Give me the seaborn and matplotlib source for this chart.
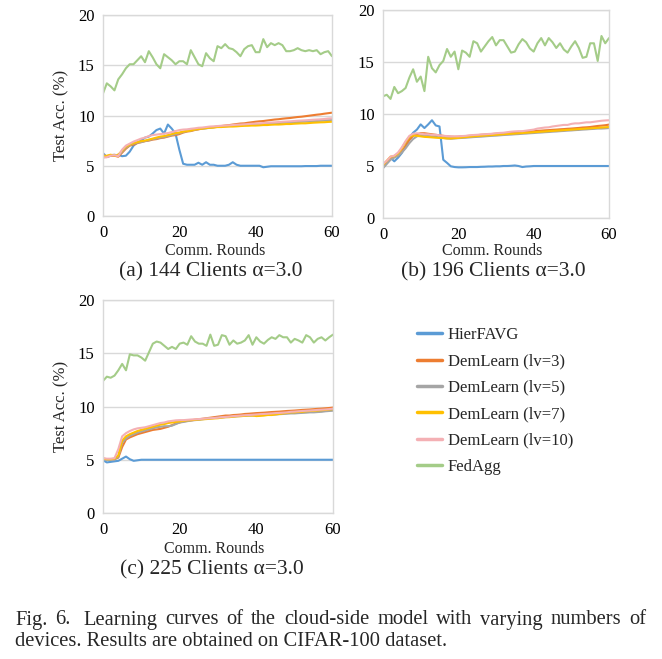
import matplotlib
matplotlib.use("Agg")
import matplotlib.pyplot as plt
import pandas as pd
import seaborn as sns

# ---------------- data ----------------
rounds = list(range(61))
methods = ["HierFAVG", "DemLearn (lv=3)", "DemLearn (lv=5)", "DemLearn (lv=7)",
           "DemLearn (lv=10)", "FedAgg"]
colors = ["#5B9BD5", "#ED7D31", "#A5A5A5", "#FFC000", "#F4B0B4", "#A4CC88"]
x_ticks = [0, 20, 40, 60]
y_ticks = [0, 5, 10, 15, 20]
panel_titles = ["(a) 144 Clients \u03b1=3.0", "(b) 196 Clients \u03b1=3.0", "(c) 225 Clients \u03b1=3.0"]
caption_line1 = "Fig. 6.  Learning curves of the cloud-side model with varying numbers of"
caption_line2 = "devices. Results are obtained on CIFAR-100 dataset."

# (a) 144 clients
a_hier = [6.26, 5.86, 6.0, 6.0, 6.1, 5.95, 6.0, 6.4, 7.0, 7.3,
          7.5, 7.8, 7.9, 8.2, 8.55, 8.7, 8.2, 9.1, 8.7, 8.2,
          6.6, 5.2, 5.1, 5.1, 5.1, 5.3, 5.1, 5.35, 5.1, 5.1,
          5.0, 5.0, 5.0, 5.1, 5.35, 5.1, 5.0, 5.0, 5.0, 5.0,
          5.0, 5.0, 4.85, 4.9, 4.95, 4.95, 4.95, 4.95, 4.95, 4.95,
          4.95, 4.95, 4.95, 4.97, 4.97, 4.97, 4.97, 5.0, 5.0, 5.0, 5.0]
a_dl3 = [6.1, 5.9, 6.0, 6.0, 5.9, 6.3, 6.7, 7.0, 7.1, 7.25,
         7.35, 7.45, 7.5, 7.6, 7.65, 7.75, 7.8, 7.9, 8.0, 8.05,
         8.15, 8.3, 8.4, 8.45, 8.55, 8.62, 8.7, 8.75, 8.8, 8.85,
         8.9, 8.95, 9.0, 9.04, 9.1, 9.15, 9.2, 9.22, 9.28, 9.33,
         9.38, 9.42, 9.45, 9.5, 9.55, 9.6, 9.63, 9.68, 9.72, 9.75,
         9.8, 9.85, 9.88, 9.93, 9.98, 10.03, 10.08, 10.12, 10.18, 10.23, 10.28]
a_dl5 = [6.0, 5.95, 6.05, 6.1, 6.0, 6.4, 6.8, 7.05, 7.2, 7.3,
         7.35, 7.45, 7.55, 7.65, 7.7, 7.8, 7.85, 7.95, 8.05, 8.15,
         8.25, 8.35, 8.45, 8.5, 8.58, 8.65, 8.7, 8.72, 8.78, 8.82,
         8.88, 8.9, 8.92, 8.95, 8.97, 9.0, 9.02, 9.05, 9.07, 9.1,
         9.12, 9.14, 9.16, 9.18, 9.2, 9.22, 9.25, 9.27, 9.29, 9.31,
         9.33, 9.35, 9.37, 9.39, 9.41, 9.43, 9.45, 9.47, 9.5, 9.52, 9.55]
a_dl7 = [5.9, 6.0, 6.1, 6.0, 6.1, 6.5, 6.9, 7.1, 7.25, 7.35,
         7.45, 7.5, 7.6, 7.7, 7.8, 7.9, 7.95, 8.05, 8.15, 8.25,
         8.3, 8.4, 8.45, 8.5, 8.6, 8.65, 8.7, 8.75, 8.78, 8.8,
         8.85, 8.85, 8.88, 8.9, 8.9, 8.92, 8.95, 8.97, 8.98, 9.0,
         9.0, 9.02, 9.05, 9.05, 9.08, 9.1, 9.1, 9.12, 9.15, 9.15,
         9.18, 9.2, 9.22, 9.22, 9.25, 9.28, 9.3, 9.32, 9.33, 9.36, 9.38]
a_dl10 = [5.8, 5.85, 6.0, 6.05, 5.95, 6.6, 7.0, 7.2, 7.4, 7.55,
          7.7, 7.8, 7.95, 8.05, 8.1, 8.15, 8.2, 8.25, 8.35, 8.45,
          8.55, 8.6, 8.62, 8.68, 8.72, 8.78, 8.8, 8.85, 8.9, 8.92,
          8.95, 8.98, 9.0, 9.02, 9.05, 9.08, 9.1, 9.12, 9.15, 9.18,
          9.2, 9.22, 9.25, 9.28, 9.3, 9.32, 9.35, 9.38, 9.4, 9.42,
          9.45, 9.48, 9.5, 9.52, 9.55, 9.58, 9.6, 9.62, 9.65, 9.7, 9.72]
a_fed = [12.2, 13.2, 12.9, 12.5, 13.6, 14.1, 14.7, 15.1, 15.1, 15.5,
         15.9, 15.3, 16.4, 15.8, 15.1, 14.7, 16.1, 15.8, 15.5, 15.1,
         15.4, 15.4, 15.1, 16.5, 15.8, 15.1, 14.9, 16.2, 15.7, 15.4,
         16.9, 16.7, 17.1, 16.7, 16.6, 16.3, 15.9, 16.6, 16.9, 17.0,
         16.3, 16.3, 17.6, 16.8, 17.2, 17.0, 17.2, 17.0, 16.4, 16.4,
         16.5, 16.7, 16.5, 16.4, 16.5, 16.4, 16.5, 16.1, 16.3, 16.4, 15.9]

# (b) 196 clients
b_hier = [4.8, 5.3, 5.8, 5.45, 5.8, 6.25, 6.9, 7.7, 8.2, 8.5,
          9.0, 8.65, 9.0, 9.4, 8.9, 8.8, 5.6, 5.3, 4.97, 4.9,
          4.87, 4.87, 4.88, 4.9, 4.9, 4.9, 4.92, 4.93, 4.95, 4.95,
          4.97, 4.97, 5.0, 5.0, 5.02, 5.05, 5.0, 4.9, 4.95, 4.97,
          5.0, 5.0, 5.0, 5.0, 5.0, 5.0, 5.0, 5.0, 5.0, 5.0,
          5.0, 5.0, 5.0, 5.0, 5.0, 5.0, 5.0, 5.0, 5.0, 5.0, 5.0]
b_dl3 = [5.0, 5.3, 5.7, 5.9, 6.0, 6.4, 6.9, 7.5, 7.9, 8.05,
         8.15, 8.15, 8.1, 8.05, 8.0, 7.95, 7.9, 7.85, 7.82, 7.8,
         7.82, 7.85, 7.88, 7.9, 7.93, 7.96, 8.0, 8.02, 8.05, 8.08,
         8.1, 8.12, 8.15, 8.18, 8.2, 8.22, 8.25, 8.28, 8.3, 8.32,
         8.35, 8.38, 8.4, 8.43, 8.45, 8.48, 8.5, 8.53, 8.55, 8.58,
         8.6, 8.63, 8.66, 8.7, 8.72, 8.75, 8.8, 8.85, 8.88, 8.92, 8.98]
b_dl5 = [4.8, 5.2, 5.6, 5.8, 6.0, 6.3, 6.7, 7.2, 7.6, 7.85,
         7.95, 7.95, 7.9, 7.85, 7.8, 7.75, 7.7, 7.65, 7.62, 7.65,
         7.68, 7.7, 7.72, 7.75, 7.78, 7.8, 7.82, 7.85, 7.88, 7.9,
         7.92, 7.95, 7.98, 8.0, 8.02, 8.05, 8.07, 8.1, 8.12, 8.15,
         8.17, 8.2, 8.22, 8.25, 8.27, 8.3, 8.32, 8.35, 8.37, 8.4,
         8.42, 8.45, 8.47, 8.5, 8.52, 8.55, 8.57, 8.6, 8.6, 8.62, 8.65]
b_dl7 = [5.1, 5.5, 5.9, 5.95, 6.2, 6.7, 7.3, 7.8, 7.95, 7.9,
         7.85, 7.8, 7.78, 7.75, 7.72, 7.7, 7.68, 7.65, 7.65, 7.68,
         7.7, 7.75, 7.78, 7.82, 7.85, 7.88, 7.9, 7.93, 7.95, 7.98,
         8.0, 8.03, 8.05, 8.08, 8.1, 8.12, 8.15, 8.17, 8.2, 8.22,
         8.25, 8.27, 8.3, 8.32, 8.35, 8.37, 8.4, 8.42, 8.45, 8.47,
         8.5, 8.52, 8.55, 8.57, 8.6, 8.62, 8.65, 8.67, 8.7, 8.72, 8.75]
b_dl10 = [5.2, 5.5, 5.9, 6.0, 6.3, 6.8, 7.4, 7.9, 8.1, 8.15,
          8.1, 8.05, 8.05, 8.0, 8.0, 7.95, 7.9, 7.88, 7.85, 7.85,
          7.85, 7.88, 7.9, 7.95, 7.98, 8.0, 8.03, 8.05, 8.08, 8.1,
          8.15, 8.18, 8.2, 8.25, 8.3, 8.33, 8.35, 8.35, 8.4, 8.45,
          8.5, 8.6, 8.65, 8.7, 8.72, 8.8, 8.85, 8.9, 8.95, 8.95,
          9.05, 9.1, 9.1, 9.15, 9.2, 9.2, 9.25, 9.3, 9.35, 9.38, 9.4]
b_fed = [11.7, 11.85, 11.45, 12.6, 12.0, 12.2, 12.5, 13.5, 14.3, 13.1,
         13.6, 12.2, 15.5, 14.4, 14.0, 14.7, 15.1, 16.25, 15.5, 16.0,
         14.3, 16.1, 15.9, 15.5, 17.0, 16.8, 16.0, 16.5, 17.0, 17.4,
         16.6, 17.1, 17.1, 16.5, 15.9, 16.0, 16.7, 17.2, 16.9, 16.3,
         16.0, 16.8, 17.3, 16.6, 17.3, 16.9, 16.35, 16.8, 16.2, 15.9,
         16.5, 17.0, 16.35, 15.4, 15.5, 16.8, 16.8, 15.1, 17.5, 16.8, 17.3]

# (c) 225 clients
c_hier = [4.95, 4.75, 4.8, 4.85, 4.9, 5.1, 5.3, 5.05, 4.9, 4.95,
          5.0, 5.0, 5.0, 5.0, 5.0, 5.0, 5.0, 5.0, 5.0, 5.0,
          5.0, 5.0, 5.0, 5.0, 5.0, 5.0, 5.0, 5.0, 5.0, 5.0,
          5.0, 5.0, 5.0, 5.0, 5.0, 5.0, 5.0, 5.0, 5.0, 5.0,
          5.0, 5.0, 5.0, 5.0, 5.0, 5.0, 5.0, 5.0, 5.0, 5.0,
          5.0, 5.0, 5.0, 5.0, 5.0, 5.0, 5.0, 5.0, 5.0, 5.0, 5.0]
c_dl3 = [5.1, 5.05, 5.05, 5.05, 5.2, 6.2, 6.9, 7.1, 7.25, 7.4,
         7.5, 7.6, 7.7, 7.8, 7.85, 7.9, 8.0, 8.1, 8.25, 8.4,
         8.5, 8.6, 8.65, 8.7, 8.75, 8.8, 8.85, 8.9, 8.95, 9.0,
         9.05, 9.1, 9.15, 9.15, 9.2, 9.22, 9.25, 9.3, 9.32, 9.35,
         9.38, 9.4, 9.42, 9.45, 9.48, 9.5, 9.52, 9.55, 9.58, 9.6,
         9.62, 9.65, 9.68, 9.7, 9.72, 9.75, 9.78, 9.8, 9.83, 9.86, 9.9]
c_dl5 = [5.05, 5.0, 5.0, 5.05, 5.3, 6.6, 7.0, 7.25, 7.4, 7.55,
         7.65, 7.75, 7.85, 7.95, 8.05, 8.1, 8.15, 8.15, 8.2, 8.35,
         8.5, 8.55, 8.62, 8.68, 8.72, 8.75, 8.8, 8.85, 8.9, 8.92,
         8.95, 8.98, 9.0, 9.02, 9.05, 9.08, 9.1, 9.12, 9.15, 9.15,
         9.18, 9.2, 9.2, 9.22, 9.25, 9.25, 9.28, 9.3, 9.32, 9.35,
         9.35, 9.38, 9.4, 9.42, 9.45, 9.45, 9.48, 9.5, 9.55, 9.58, 9.6]
c_dl7 = [5.1, 5.05, 5.05, 5.1, 5.4, 6.8, 7.2, 7.4, 7.55, 7.7,
         7.8, 7.9, 8.0, 8.1, 8.2, 8.3, 8.35, 8.45, 8.5, 8.55,
         8.6, 8.65, 8.7, 8.72, 8.75, 8.78, 8.8, 8.82, 8.85, 8.88,
         8.9, 8.95, 9.0, 9.0, 9.05, 9.08, 9.1, 9.12, 9.15, 9.15,
         9.1, 9.12, 9.15, 9.2, 9.2, 9.25, 9.3, 9.35, 9.4, 9.45,
         9.45, 9.5, 9.5, 9.55, 9.58, 9.6, 9.62, 9.65, 9.68, 9.72, 9.75]
c_dl10 = [5.15, 5.1, 5.1, 5.15, 6.0, 7.2, 7.5, 7.7, 7.85, 7.95,
          8.0, 8.05, 8.15, 8.25, 8.35, 8.45, 8.5, 8.6, 8.65, 8.7,
          8.72, 8.72, 8.75, 8.78, 8.8, 8.82, 8.85, 8.88, 8.9, 8.92,
          8.95, 9.0, 9.02, 9.05, 9.1, 9.12, 9.15, 9.18, 9.2, 9.22,
          9.25, 9.28, 9.3, 9.32, 9.35, 9.38, 9.4, 9.42, 9.45, 9.5,
          9.52, 9.55, 9.58, 9.6, 9.62, 9.65, 9.68, 9.7, 9.72, 9.75, 9.8]
c_fed = [12.4, 12.8, 12.7, 12.9, 13.4, 14.0, 13.4, 14.9, 14.8, 14.8,
         14.6, 14.3, 15.1, 15.9, 16.1, 16.0, 15.7, 15.4, 15.6, 15.4,
         15.9, 16.0, 15.8, 16.6, 16.1, 15.9, 15.9, 15.7, 16.75, 15.7,
         15.8, 16.7, 16.6, 15.8, 16.2, 15.9, 16.0, 16.2, 16.7, 15.8,
         16.5, 16.1, 15.9, 16.25, 16.5, 16.35, 16.7, 16.5, 16.5, 16.0,
         16.35, 16.2, 16.0, 16.7, 16.5, 16.0, 16.35, 16.5, 16.2, 16.5, 16.75]

panels = [
    [a_hier, a_dl3, a_dl5, a_dl7, a_dl10, a_fed],
    [b_hier, b_dl3, b_dl5, b_dl7, b_dl10, b_fed],
    [c_hier, c_dl3, c_dl5, c_dl7, c_dl10, c_fed],
]

# ---------------- style ----------------
sns.set_theme(style="white")
plt.rcParams["font.family"] = ["Liberation Serif", "DejaVu Serif"]

W, H = 662, 659
fig = plt.figure(figsize=(W / 100, H / 100), dpi=100)
fig.patch.set_facecolor("white")


def px_axes(left, right, top, bottom):
    return fig.add_axes([left / W, 1 - bottom / H, (right - left) / W, (bottom - top) / H])


def fy(y):
    return 1 - y / H


axes_px = [(103, 332, 15, 216), (383, 609, 10, 218), (103, 333, 300, 513)]
xlabel_pos = [(215, 251), (492, 251), (214, 549)]
title_pos = [(211, 272), (493, 272), (212, 570)]
grid_col = "#D9D9D9"
FS = 11.5

axes = []
for i, (box, vals_list) in enumerate(zip(axes_px, panels)):
    ax = px_axes(*box)
    frames = [pd.DataFrame({"Round": rounds[:len(v)], "Acc": v, "Method": m})
              for m, v in zip(methods, vals_list)]
    df = pd.concat(frames, ignore_index=True)
    sns.lineplot(data=df, x="Round", y="Acc", hue="Method", hue_order=methods,
                 palette=colors, linewidth=1.5, ax=ax, legend=(i == 2),
                 errorbar=None)
    ax.set_xlim(0, 60)
    ax.set_ylim(0, 20)
    ax.set_xticks(x_ticks)
    ax.set_yticks(y_ticks)
    ax.set_xticklabels([str(t) for t in x_ticks], fontsize=12)
    ax.set_yticklabels([str(t) for t in y_ticks], fontsize=12)
    ax.tick_params(axis="both", length=0, colors="black")
    ax.tick_params(axis="x", pad=6.5)
    ax.tick_params(axis="y", pad=6)
    ax.yaxis.grid(True, color=grid_col, linewidth=1.0)
    ax.xaxis.grid(False)
    ax.set_axisbelow(True)
    for s in ax.spines.values():
        s.set_color(grid_col)
        s.set_linewidth(1.0)
    ax.set_xlabel("")
    if i == 1:
        ax.set_ylabel("")
    else:
        ax.set_ylabel("Test Acc. (%)", fontsize=12, labelpad=6)
    fig.text(xlabel_pos[i][0] / W, fy(xlabel_pos[i][1]), "Comm. Rounds",
             fontsize=FS, ha="center", va="center")
    fig.text(title_pos[i][0] / W, fy(title_pos[i][1]), panel_titles[i],
             fontsize=15.5, ha="center", va="center")
    axes.append(ax)

handles, labels = axes[2].get_legend_handles_labels()
axes[2].get_legend().remove()
for h in handles:
    h.set_linewidth(2.5)
fig.legend(handles, labels, loc="upper left", bbox_to_anchor=(417 / W, fy(327)),
           frameon=False, fontsize=12, handlelength=1.5, handletextpad=0.35,
           labelspacing=0.62, borderaxespad=0, borderpad=0)

# caption: first line justified to the full width, second line left-aligned
CAP_FS = 14.8
left_px, right_px = 15, 646
renderer = fig.canvas.get_renderer()
words = caption_line1.split()
word_texts = [fig.text(0, fy(620), w, fontsize=CAP_FS, ha="left", va="center") for w in words]
widths = [t.get_window_extent(renderer=renderer).width for t in word_texts]
extra_after = {1: 5.0}  # wider gap after "6."
n_gaps = len(words) - 1
gap = (right_px - left_px - sum(widths) - sum(extra_after.values())) / n_gaps
x = left_px
for k, (t, w) in enumerate(zip(word_texts, widths)):
    t.set_x(x / W)
    x += w + gap + extra_after.get(k, 0.0)
fig.text(left_px / W, fy(641), caption_line2, fontsize=CAP_FS, ha="left", va="center")

fig.savefig("out.png", dpi=100, facecolor="white")
